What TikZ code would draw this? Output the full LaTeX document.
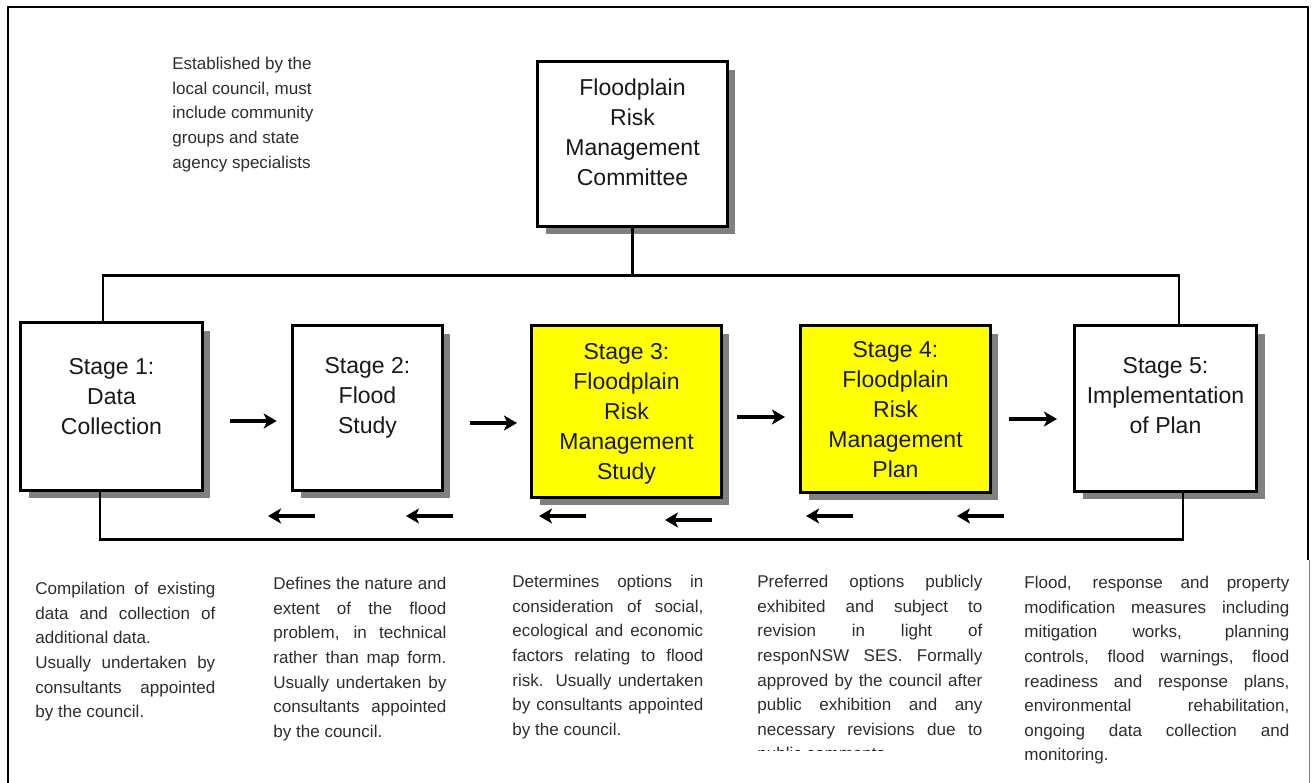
\documentclass[tikz,border=0pt]{standalone}
\usepackage{fontspec}
\setmainfont{Liberation Sans}
\usetikzlibrary{shadows, arrows.meta}
\tolerance=10000
\hbadness=10000
\hyphenpenalty=10000

\definecolor{boxyellow}{RGB}{255,255,0}
\definecolor{shadowgray}{RGB}{128,128,128}
\definecolor{textgray}{RGB}{45,45,45}

\begin{document}
\begin{tikzpicture}[x=0.02cm, y=-0.02cm,
    stagebox/.style={draw, line width=1.7pt, fill=white, minimum width=3.8cm, minimum height=3.4cm,
        drop shadow={shadow xshift=0.16cm, shadow yshift=-0.16cm, fill=shadowgray, opacity=1}},
    stagetext/.style={anchor=north, align=center, inner sep=0pt, text=black!90,
        font=\fontsize{13.1pt}{17.1pt}\selectfont},
    note/.style={anchor=north west, inner sep=0pt, text=textgray,
        font=\fontsize{9.7pt}{14pt}\selectfont},
    bus/.style={line width=1.6pt},
    fwd/.style={line width=2.2pt, -{Stealth[length=0.26cm, width=0.3cm, inset=0.07cm]}},
    frame/.style={line width=1.1pt}]
    \useasboundingbox (0,0) rectangle (1314,783);

    % Draw the frame
    \draw[frame] (8,783) -- (8,7) -- (1308,7) -- (1308,560);
    \draw[black!50, line width=0.4pt] (1309,560) -- (1309,783);

    % Draw the committee
    \node[stagebox, minimum width=3.8cm, minimum height=3.3cm] (cm) at (632.5,144) {};
    \node[stagetext] (tc) at (632.5,78) {Floodplain\\Risk\\Management\\Committee};
    \node[note, align=left] (est) at (172,57) {Established by the\\local council, must\\include community\\groups and state\\agency specialists};

    % Draw the stages
    \node[stagebox, minimum width=3.63cm, minimum height=3.35cm] (s1) at (111.5,406.5) {};
    \node[stagebox, minimum width=3.0cm, minimum height=3.3cm] (s2) at (367.5,408) {};
    \node[stagebox, fill=boxyellow, minimum width=3.8cm, minimum height=3.44cm] (s3) at (626.5,411.5) {};
    \node[stagebox, fill=boxyellow, minimum width=3.8cm, minimum height=3.34cm] (s4) at (895.5,409) {};
    \node[stagebox, minimum width=3.64cm, minimum height=3.32cm] (s5) at (1165.5,408.5) {};

    \node[stagetext] (t1) at (111.5,358) {Stage 1:\\Data\\Collection};
    \node[stagetext] (t2) at (367.5,357) {Stage 2:\\Flood\\Study};
    \node[stagetext] (t3) at (626.5,343) {Stage 3:\\Floodplain\\Risk\\Management\\Study};
    \node[stagetext] (t4) at (895.5,341) {Stage 4:\\Floodplain\\Risk\\Management\\Plan};
    \node[stagetext] (t5) at (1165.5,357) {Stage 5:\\Implementation\\of Plan};

    % Draw the buses
    \draw[bus] (cm.south) -- ++(0,48);
    \draw[bus] ([shift={(-8.5,0)}]s1.north) -- ++(0,-46) -| ([shift={(13.5,0)}]s5.north);
    \draw[bus] ([shift={(-11.5,0)}]s1.south) -- ++(0,48) -| ([shift={(17.5,0)}]s5.south);

    % Draw forward arrows
    \draw[fwd] ([shift={(26,14.5)}]s1.east) -- ++(47,0);
    \draw[fwd] ([shift={(26,15)}]s2.east) -- ++(47,0);
    \draw[fwd] ([shift={(14,5.5)}]s3.east) -- ++(48,0);
    \draw[fwd] ([shift={(17,10)}]s4.east) -- ++(48,0);

    % Draw backward arrows
    \draw[fwd] ([shift={(24,24)}]s2.south west) -- ++(-47,0);
    \draw[fwd] ([shift={(9,24)}]s2.south east) -- ++(-47,0);
    \draw[fwd] ([shift={(56,17)}]s3.south west) -- ++(-47,0);
    \draw[fwd] ([shift={(-11,21)}]s3.south east) -- ++(-47,0);
    \draw[fwd] ([shift={(54,22)}]s4.south west) -- ++(-47,0);
    \draw[fwd] ([shift={(12,22)}]s4.south east) -- ++(-47,0);

    % Draw the descriptions
    \node[note, text width=3.6cm, align=justify] (d1) at (35,582) {Compilation of existing\linebreak data and collection of\linebreak additional data.\par Usually undertaken by\linebreak consultants appointed\linebreak by the council.};
    \node[note, text width=3.46cm, align=justify] (d2) at (273,577) {Defines the nature and\linebreak extent of the flood\linebreak problem, in technical\linebreak rather than map form.\linebreak Usually undertaken by\linebreak consultants appointed\linebreak by the council.};
    \node[note, text width=3.82cm, align=justify] (d3) at (512,575) {Determines options in\linebreak consideration of social,\linebreak ecological and economic\linebreak factors relating to flood\linebreak risk. Usually undertaken\linebreak by consultants appointed\linebreak by the council.};
    \begin{scope}
        \clip (740,560) rectangle (1000,750);
        \node[note, text width=4.5cm, align=justify] (d4) at (757,575) {Preferred options publicly\linebreak exhibited and subject to\linebreak revision in light of\linebreak responNSW SES. Formally\linebreak approved by the council after\linebreak public exhibition and any\linebreak necessary revisions due to\linebreak public comments};
    \end{scope}
    \node[note, text width=5.3cm, align=justify] (d5) at (1024,576) {Flood, response and property\linebreak modification measures including\linebreak mitigation works, planning\linebreak controls, flood warnings, flood\linebreak readiness and response plans,\linebreak environmental rehabilitation,\linebreak ongoing data collection and\linebreak monitoring.};
\end{tikzpicture}
\end{document}
